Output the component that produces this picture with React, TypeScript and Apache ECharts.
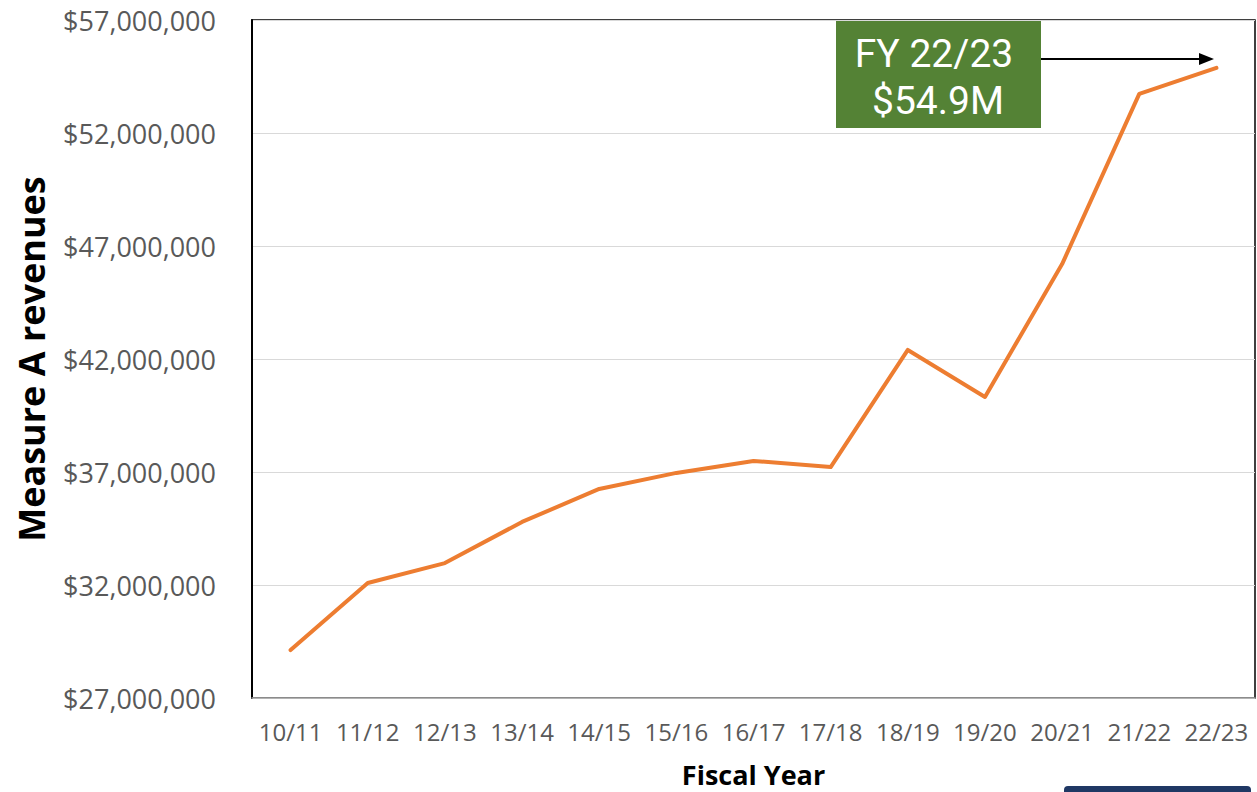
import React, { useEffect, useRef } from "react";
import * as echarts from "echarts";

const categories = ["10/11", "11/12", "12/13", "13/14", "14/15", "15/16", "16/17", "17/18", "18/19", "19/20", "20/21", "21/22", "22/23"];
const revenues = [29120000, 32090000, 32970000, 34790000, 36250000, 36960000, 37490000, 37220000, 42400000, 40320000, 46200000, 53730000, 54880000];
const yMin = 27000000;
const yMax = 57000000;
const yInterval = 5000000;
const annotationLines = ["FY 22/23", "$54.9M"];

const fmt = (v: number) => "$" + v.toLocaleString("en-US");

export default function App() {
  const ref = useRef<HTMLDivElement>(null);
  useEffect(() => {
    if (!ref.current) return;
    const chart = echarts.init(ref.current, undefined, { renderer: "svg" });
    chart.setOption({
      animation: false,
      grid: {
        left: 252,
        right: 2,
        top: 20,
        bottom: 94,
        show: true,
        borderColor: "#000",
        borderWidth: 1.5,
        backgroundColor: "transparent",
        containLabel: false,
        outerBoundsMode: "none",
      },
      xAxis: {
        type: "category",
        data: categories,
        boundaryGap: true,
        name: "Fiscal Year",
        nameLocation: "middle",
        nameGap: 63,
        nameTextStyle: { fontFamily: "Open Sans", fontWeight: "bold", fontSize: 27, color: "#000" },
        axisLine: { show: true, lineStyle: { color: "#a6a6a6", width: 1.5 } },
        axisTick: { show: false },
        axisLabel: { fontFamily: "Open Sans", fontSize: 24, color: "#595959", margin: 21, interval: 0 },
        splitLine: { show: false },
      },
      yAxis: {
        type: "value",
        min: yMin,
        max: yMax,
        interval: yInterval,
        name: "Measure A revenues",
        nameLocation: "middle",
        nameGap: 203,
        nameRotate: 90,
        nameTextStyle: { fontFamily: "Open Sans", fontWeight: "bold", fontSize: 36, color: "#000" },
        axisLine: { show: true, lineStyle: { color: "#000", width: 2 } },
        axisTick: { show: false },
        axisLabel: { fontFamily: "Open Sans", fontSize: 27, color: "#595959", margin: 36, formatter: (v: number) => fmt(v) },
        splitLine: { show: true, lineStyle: { color: "#d9d9d9", width: 1 } },
      },
      series: [
        {
          type: "line",
          data: revenues,
          showSymbol: false,
          symbol: "none",
          lineStyle: { color: "#ED7D31", width: 4, cap: "round", join: "round" },
          itemStyle: { color: "#ED7D31" },
        },
      ],
      graphic: [
        { type: "rect", shape: { x: 836, y: 21, width: 205, height: 107 }, style: { fill: "#548235" }, z: 100 },
        {
          type: "text",
          x: 934,
          y: 54,
          style: { text: annotationLines[0], fill: "#fff", font: "39px Roboto", textAlign: "center", textVerticalAlign: "middle" },
          z: 101,
        },
        {
          type: "text",
          x: 938,
          y: 101,
          style: { text: annotationLines[1], fill: "#fff", font: "39px Roboto", textAlign: "center", textVerticalAlign: "middle" },
          z: 101,
        },
        { type: "line", shape: { x1: 1041, y1: 59, x2: 1200, y2: 59 }, style: { stroke: "#000", lineWidth: 2 }, z: 101 },
        { type: "polygon", shape: { points: [[1214, 59], [1199, 53], [1199, 65]] }, style: { fill: "#000" }, z: 101 },
        { type: "rect", shape: { x: 1064, y: 786, width: 187, height: 12, r: 4 }, style: { fill: "#1f3864" }, z: 101 },
      ],
    });
    return () => chart.dispose();
  }, []);
  return <div ref={ref} style={{ width: 1257, height: 792, position: "absolute", left: 0, top: 0 }} />;
}
